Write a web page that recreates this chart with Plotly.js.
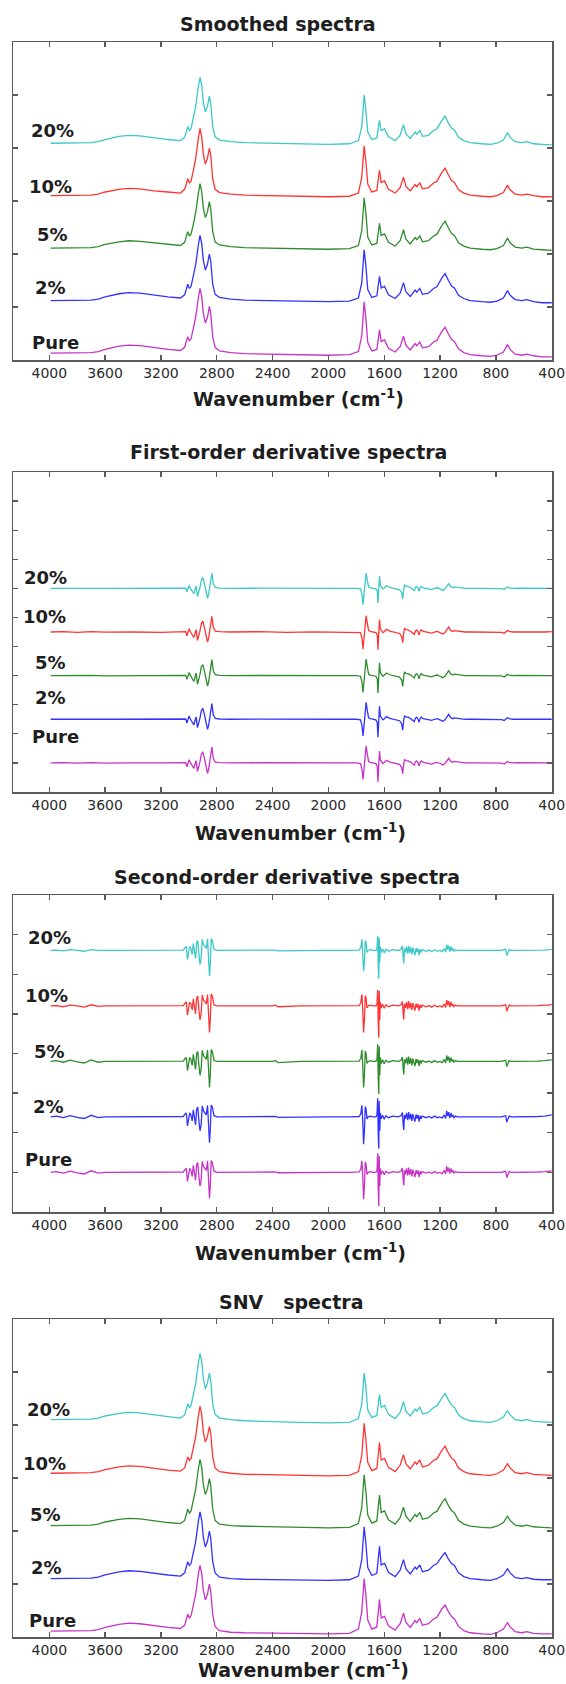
<!DOCTYPE html>
<html><head><meta charset="utf-8">
<script src="https://cdn.plot.ly/plotly-3.0.1.min.js"></script>
<style>html,body{margin:0;padding:0;background:#fff}#chart{width:566px;height:1684px}</style>
</head><body><div id="chart"></div>
<script>
// ---------- labels ----------
const SERIES = ['Pure', '2%', '5%', '10%', '20%'];
const PANEL_TITLES = ['Smoothed spectra', 'First-order derivative spectra', 'Second-order derivative spectra', 'SNV\u00a0\u00a0\u00a0spectra'];
const X_TITLE = 'Wavenumber (cm<sup>-1</sup>)';
const X_TICKS = [4000, 3600, 3200, 2800, 2400, 2000, 1600, 1200, 800, 400];
const X_TICK_LABELS = ['4000', '3600', '3200', '2800', '2400', '2000', '1600', '1200', '800', '400'];

// ---------- smoothed / SNV spectra (wavenumber grid) ----------
const SM_W = [3990,3900,3800,3700,3650,3600,3500,3430,3350,3250,3150,3060,3030,3008,2996,2984,2968,2951,2932,2920,2908,2896,2882,2867,2853,2843,2829,2812,2780,2700,2600,2400,2200,2000,1850,1785,1761,1744,1732,1718,1689,1653,1634,1622,1598,1570,1522,1486,1462,1445,1414,1379,1367,1345,1326,1283,1247,1223,1187,1164,1140,1116,1097,1068,1030,985,900,840,793,746,717,698,662,614,578,530,470,400];

const SM_20 = [4.09,4.09,4.09,4.10,4.12,4.16,4.22,4.24,4.23,4.19,
4.16,4.14,4.20,4.40,4.33,4.37,4.56,4.78,5.16,5.33,
5.19,4.86,4.68,4.78,4.98,4.84,4.40,4.21,4.15,4.12,
4.10,4.09,4.08,4.07,4.08,4.14,4.40,5.00,4.72,4.30,
4.16,4.19,4.52,4.33,4.36,4.21,4.14,4.24,4.44,4.27,
4.18,4.30,4.26,4.33,4.22,4.24,4.33,4.36,4.52,4.60,
4.47,4.37,4.34,4.20,4.14,4.10,4.08,4.07,4.09,4.15,
4.29,4.20,4.12,4.10,4.12,4.08,4.07,4.06];
const SM_10 = [3.10,3.10,3.10,3.11,3.13,3.17,3.22,3.24,3.23,3.19,
3.17,3.15,3.22,3.42,3.34,3.38,3.57,3.80,4.18,4.37,
4.21,3.88,3.70,3.80,4.00,3.86,3.42,3.22,3.16,3.13,
3.11,3.10,3.09,3.08,3.09,3.15,3.45,4.04,3.76,3.32,
3.17,3.20,3.58,3.35,3.38,3.22,3.15,3.25,3.45,3.28,
3.19,3.31,3.27,3.34,3.23,3.25,3.34,3.37,3.54,3.62,
3.49,3.38,3.35,3.21,3.15,3.11,3.09,3.08,3.10,3.16,
3.30,3.21,3.13,3.11,3.13,3.10,3.08,3.08];
const SM_5 = [2.11,2.11,2.11,2.12,2.14,2.18,2.23,2.25,2.24,2.21,
2.18,2.16,2.22,2.42,2.34,2.38,2.56,2.78,3.14,3.33,
3.18,2.86,2.69,2.79,2.99,2.85,2.42,2.23,2.17,2.14,
2.12,2.11,2.10,2.09,2.10,2.16,2.44,3.06,2.78,2.32,
2.17,2.20,2.58,2.35,2.38,2.22,2.15,2.25,2.46,2.28,
2.19,2.31,2.27,2.34,2.23,2.25,2.34,2.37,2.54,2.62,
2.49,2.38,2.35,2.21,2.15,2.11,2.09,2.08,2.10,2.16,
2.30,2.21,2.13,2.11,2.13,2.09,2.08,2.07];
const SM_2 = [1.12,1.12,1.12,1.13,1.15,1.19,1.25,1.27,1.26,1.22,
1.19,1.17,1.23,1.43,1.35,1.39,1.58,1.80,2.17,2.35,
2.20,1.88,1.70,1.80,2.00,1.86,1.43,1.24,1.18,1.15,
1.13,1.12,1.11,1.10,1.11,1.17,1.46,2.08,1.79,1.33,
1.18,1.21,1.58,1.36,1.39,1.23,1.16,1.26,1.46,1.29,
1.20,1.32,1.28,1.35,1.24,1.26,1.35,1.38,1.55,1.63,
1.50,1.39,1.36,1.22,1.16,1.12,1.10,1.09,1.11,1.17,
1.31,1.22,1.14,1.12,1.14,1.10,1.08,1.08];
const SM_PURE = [0.13,0.13,0.13,0.14,0.16,0.20,0.26,0.28,0.27,0.23,
0.20,0.18,0.24,0.44,0.36,0.40,0.59,0.81,1.17,1.35,
1.20,0.88,0.70,0.80,1.01,0.87,0.44,0.24,0.17,0.14,
0.12,0.11,0.10,0.09,0.10,0.16,0.46,1.10,0.80,0.33,
0.17,0.20,0.57,0.35,0.38,0.22,0.15,0.25,0.45,0.28,
0.19,0.31,0.27,0.34,0.23,0.25,0.34,0.37,0.54,0.62,
0.49,0.38,0.35,0.21,0.14,0.10,0.08,0.07,0.09,0.15,
0.29,0.20,0.11,0.09,0.11,0.08,0.06,0.06];

const SNV_20 = [4.10,4.10,4.10,4.11,4.13,4.17,4.22,4.24,4.23,4.19,
4.16,4.13,4.19,4.40,4.33,4.37,4.56,4.78,5.17,5.35,
5.20,4.87,4.68,4.78,4.98,4.84,4.40,4.20,4.13,4.10,
4.08,4.06,4.05,4.04,4.05,4.12,4.40,4.98,4.72,4.28,
4.14,4.18,4.58,4.33,4.37,4.20,4.12,4.24,4.44,4.26,
4.17,4.30,4.26,4.34,4.21,4.24,4.33,4.36,4.52,4.60,
4.47,4.37,4.33,4.19,4.12,4.08,4.06,4.05,4.08,4.15,
4.27,4.19,4.10,4.08,4.10,4.07,4.06,4.05];
const SNV_10 = [3.09,3.09,3.09,3.10,3.12,3.16,3.21,3.23,3.22,3.18,
3.15,3.13,3.19,3.40,3.33,3.37,3.55,3.78,4.16,4.35,
4.20,3.86,3.68,3.78,3.97,3.84,3.40,3.19,3.12,3.09,
3.07,3.06,3.05,3.04,3.05,3.12,3.42,4.03,3.74,3.29,
3.14,3.18,3.67,3.34,3.37,3.20,3.12,3.24,3.44,3.27,
3.17,3.30,3.26,3.34,3.21,3.24,3.33,3.36,3.52,3.60,
3.47,3.37,3.33,3.19,3.12,3.08,3.06,3.05,3.08,3.15,
3.27,3.19,3.10,3.08,3.10,3.07,3.06,3.05];
const SNV_5 = [2.10,2.10,2.10,2.11,2.13,2.17,2.22,2.24,2.23,2.19,
2.16,2.14,2.20,2.41,2.34,2.38,2.56,2.79,3.17,3.35,
3.20,2.87,2.69,2.79,2.99,2.85,2.41,2.20,2.13,2.10,
2.09,2.08,2.07,2.06,2.07,2.14,2.44,3.06,2.76,2.30,
2.15,2.19,2.68,2.35,2.38,2.21,2.13,2.25,2.45,2.28,
2.18,2.31,2.27,2.35,2.22,2.25,2.34,2.37,2.53,2.61,
2.48,2.38,2.34,2.20,2.13,2.09,2.07,2.06,2.09,2.16,
2.28,2.20,2.11,2.09,2.11,2.08,2.07,2.06];
const SNV_2 = [1.10,1.10,1.10,1.11,1.13,1.17,1.23,1.25,1.24,1.20,
1.17,1.15,1.21,1.42,1.35,1.39,1.57,1.80,2.18,2.36,
2.21,1.88,1.70,1.80,2.00,1.86,1.42,1.21,1.13,1.10,
1.09,1.08,1.07,1.07,1.08,1.15,1.46,2.08,1.78,1.31,
1.16,1.20,1.71,1.36,1.39,1.22,1.14,1.26,1.46,1.29,
1.19,1.32,1.28,1.36,1.23,1.26,1.35,1.38,1.52,1.59,
1.47,1.38,1.35,1.21,1.14,1.10,1.08,1.07,1.10,1.17,
1.29,1.21,1.12,1.10,1.12,1.09,1.08,1.08];
const SNV_PURE = [0.11,0.11,0.11,0.12,0.14,0.18,0.24,0.26,0.25,0.21,
0.18,0.16,0.22,0.43,0.36,0.40,0.58,0.81,1.18,1.35,
1.20,0.88,0.70,0.80,1.00,0.86,0.42,0.20,0.12,0.09,
0.08,0.07,0.06,0.06,0.07,0.15,0.47,1.10,0.80,0.32,
0.15,0.19,0.71,0.36,0.39,0.21,0.13,0.25,0.45,0.28,
0.18,0.31,0.27,0.35,0.22,0.25,0.34,0.37,0.53,0.60,
0.48,0.38,0.34,0.20,0.12,0.08,0.06,0.05,0.08,0.15,
0.27,0.19,0.10,0.08,0.10,0.07,0.06,0.06];

// ---------- first-order derivative spectra ----------
const D1_W = [3990,3900,3800,3700,3600,3500,3400,3200,3060,3022,
3014,3006,2998,2988,2975,2964,2956,2948,2938,2930,
2920,2910,2900,2888,2876,2866,2858,2850,2842,2835,
2825,2810,2780,2700,2500,2300,2100,1900,1800,1770,
1760,1752,1745,1738,1730,1722,1712,1700,1680,1660,
1650,1645,1640,1634,1628,1620,1610,1598,1585,1560,
1520,1490,1475,1468,1462,1455,1445,1430,1410,1395,
1385,1378,1370,1360,1350,1342,1335,1320,1290,1260,
1240,1220,1200,1180,1165,1150,1138,1125,1110,1098,
1085,1060,1020,960,900,820,760,740,728,718,
705,680,640,600,560,500,450,400];
const D1_20 = [7,7.005,7,7.005,7,7,7,7,7,7.01,
6.88,7.02,7.10,7,6.90,6.82,6.95,7.08,6.72,6.85,
7.05,7.30,7.37,7.15,6.90,6.66,6.80,7.05,7.40,7.52,
7.15,7.03,7.01,7,7.005,6.995,7,7,7,6.98,
6.80,6.44,6.80,7.25,7.52,7.30,7.05,7.02,7,6.98,
6.90,6.50,6.90,7.42,7.10,7.03,6.98,7.02,7.09,7.03,
6.98,6.95,6.85,6.64,6.90,7.12,7.08,7.07,7.02,6.97,
6.92,7.02,7.07,7.03,6.90,7.03,7.07,7.02,6.98,6.96,
7,7.02,6.98,6.93,6.98,7.10,7.16,7.06,7.02,7.05,
7.04,7.01,7,7,7,7,6.99,6.96,7,7.05,
7.02,7,7.005,7,7.005,7,7,7];
const D1_10 = [5.5,5.51,5.49,5.51,5.495,5.505,5.5,5.49,5.5,5.51,
5.37,5.52,5.61,5.50,5.39,5.31,5.45,5.58,5.21,5.34,
5.55,5.80,5.87,5.64,5.40,5.15,5.30,5.55,5.92,6.04,
5.66,5.53,5.51,5.50,5.51,5.49,5.505,5.49,5.50,5.48,
5.29,4.92,5.29,5.76,6.06,5.82,5.55,5.52,5.50,5.48,
5.39,4.89,5.38,5.93,5.61,5.53,5.48,5.52,5.59,5.53,
5.48,5.45,5.34,5.13,5.40,5.63,5.58,5.57,5.52,5.47,
5.42,5.52,5.57,5.53,5.40,5.53,5.57,5.52,5.48,5.46,
5.50,5.52,5.48,5.43,5.48,5.60,5.67,5.56,5.52,5.55,
5.54,5.51,5.50,5.50,5.50,5.50,5.49,5.46,5.50,5.55,
5.52,5.50,5.505,5.50,5.505,5.50,5.50,5.51];
const D1_5 = [4,4.005,3.99,4.01,3.995,4,4,4,4,4.01,
3.87,4.02,4.11,4.00,3.89,3.80,3.95,4.09,3.70,3.84,
4.05,4.31,4.38,4.15,3.90,3.64,3.79,4.05,4.41,4.55,
4.16,4.03,4.01,4.00,4.005,3.995,4.00,4.00,4.00,3.98,
3.79,3.42,3.79,4.27,4.57,4.32,4.05,4.02,4.00,3.98,
3.89,3.40,3.89,4.44,4.11,4.03,3.98,4.02,4.09,4.03,
3.98,3.95,3.85,3.63,3.90,4.13,4.08,4.07,4.02,3.97,
3.92,4.02,4.07,4.03,3.89,4.03,4.07,4.02,3.98,3.96,
4.00,4.02,3.98,3.93,3.98,4.10,4.17,4.06,4.02,4.05,
4.04,4.01,4.00,4.00,4.00,4.00,3.99,3.95,4.00,4.05,
4.02,4.00,4.005,4.00,4.005,4.00,4.00,4.00];
const D1_2 = [2.5,2.505,2.5,2.505,2.5,2.5,2.5,2.5,2.5,2.51,
2.37,2.52,2.61,2.50,2.39,2.31,2.45,2.58,2.21,2.34,
2.55,2.80,2.88,2.65,2.40,2.15,2.30,2.55,2.92,3.04,
2.65,2.53,2.51,2.50,2.505,2.495,2.50,2.50,2.50,2.48,
2.29,1.93,2.29,2.78,3.08,2.82,2.55,2.52,2.50,2.48,
2.39,1.88,2.38,2.95,2.61,2.53,2.48,2.52,2.59,2.53,
2.48,2.45,2.34,2.13,2.40,2.62,2.58,2.57,2.52,2.47,
2.42,2.52,2.57,2.53,2.40,2.53,2.57,2.52,2.48,2.46,
2.50,2.52,2.48,2.43,2.48,2.60,2.67,2.56,2.52,2.55,
2.54,2.51,2.50,2.50,2.50,2.50,2.49,2.46,2.50,2.55,
2.52,2.50,2.505,2.50,2.505,2.50,2.50,2.50];
const D1_PURE = [1,1.01,0.99,1.01,0.995,1.005,1,1,1,1.01,
0.87,1.02,1.11,1.00,0.89,0.81,0.95,1.08,0.71,0.84,
1.05,1.31,1.38,1.15,0.90,0.64,0.79,1.05,1.42,1.54,
1.15,1.03,1.01,1.00,1.005,0.995,1.00,1.00,1.00,0.98,
0.79,0.43,0.79,1.28,1.59,1.32,1.05,1.02,1.00,0.98,
0.88,0.35,0.88,1.41,1.10,1.03,0.98,1.02,1.09,1.03,
0.98,0.95,0.84,0.63,0.90,1.12,1.08,1.07,1.02,0.97,
0.92,1.02,1.07,1.03,0.89,1.03,1.07,1.02,0.98,0.96,
1.00,1.02,0.98,0.93,0.98,1.10,1.16,1.06,1.02,1.05,
1.04,1.01,1.00,1.00,1.00,1.00,0.99,0.96,1.00,1.05,
1.02,1.00,1.005,1.00,1.005,1.00,1.00,1.00];

// ---------- second-order derivative spectra ----------
const D2_W = [3990,3950,3900,3850,3800,3750,3700,3650,3600,3500,
3300,3100,3040,3025,3018,3010,3002,2994,2985,2976,
2968,2960,2952,2944,2936,2928,2920,2912,2904,2895,
2885,2875,2866,2858,2852,2846,2840,2832,2820,2800,
2700,2600,2400,2380,2360,2200,2000,1850,1780,1768,
1760,1754,1748,1742,1736,1730,1724,1715,1700,1680,
1660,1652,1647,1643,1639,1636,1632,1628,1622,1612,
1600,1588,1570,1540,1500,1480,1470,1464,1460,1455,
1448,1440,1432,1425,1418,1410,1402,1395,1388,1380,
1372,1365,1358,1350,1343,1336,1328,1315,1300,1280,
1260,1240,1220,1200,1185,1170,1160,1152,1145,1138,
1130,1122,1115,1108,1100,1090,1075,1050,1000,950,
900,850,800,760,740,730,722,715,705,690,
650,600,550,500,450,420,400];
const D2_20 = [6.6,6.61,6.59,6.62,6.6,6.58,6.62,6.6,6.6,6.6,
6.6,6.6,6.61,6.68,6.70,6.37,6.55,6.70,6.65,6.50,
6.78,6.50,6.40,6.80,6.85,6.50,6.25,6.40,6.88,6.75,
6.70,6.65,6.89,6.40,5.95,6.30,6.90,6.85,6.63,6.60,
6.60,6.60,6.60,6.61,6.59,6.60,6.60,6.60,6.61,6.68,
6.88,6.50,6.08,6.30,6.85,6.80,6.55,6.60,6.62,6.60,
6.60,6.65,6.96,6.20,5.89,6.93,6.30,6.70,6.55,6.64,
6.54,6.63,6.58,6.62,6.60,6.63,6.71,6.40,6.27,6.65,
6.55,6.70,6.52,6.72,6.54,6.68,6.50,6.67,6.55,6.48,
6.66,6.56,6.65,6.48,6.63,6.55,6.62,6.60,6.58,6.61,
6.57,6.62,6.58,6.60,6.57,6.65,6.56,6.75,6.62,6.72,
6.57,6.70,6.60,6.65,6.58,6.62,6.60,6.60,6.60,6.60,
6.60,6.60,6.60,6.60,6.62,6.63,6.47,6.55,6.62,6.60,
6.60,6.60,6.60,6.60,6.61,6.62,6.63];
const D2_10 = [5.2,5.21,5.18,5.22,5.2,5.17,5.23,5.19,5.2,5.2,
5.2,5.2,5.21,5.28,5.30,4.97,5.15,5.30,5.25,5.10,
5.38,5.10,5.00,5.40,5.45,5.10,4.85,5.00,5.48,5.35,
5.30,5.25,5.49,5.00,4.53,4.90,5.50,5.45,5.23,5.20,
5.20,5.20,5.20,5.22,5.18,5.20,5.20,5.20,5.21,5.28,
5.49,5.10,4.53,4.85,5.46,5.40,5.15,5.20,5.22,5.20,
5.20,5.25,5.60,4.75,4.40,5.58,4.85,5.30,5.15,5.24,
5.14,5.23,5.18,5.22,5.20,5.23,5.31,5.00,4.86,5.25,
5.15,5.30,5.12,5.32,5.14,5.28,5.10,5.27,5.15,5.08,
5.26,5.16,5.25,5.08,5.23,5.15,5.22,5.20,5.18,5.21,
5.17,5.22,5.18,5.20,5.17,5.25,5.16,5.35,5.22,5.32,
5.17,5.30,5.20,5.25,5.18,5.22,5.20,5.20,5.20,5.20,
5.20,5.20,5.20,5.20,5.22,5.23,5.07,5.15,5.22,5.20,
5.20,5.20,5.20,5.21,5.22,5.22,5.24];
const D2_5 = [3.8,3.82,3.78,3.83,3.79,3.76,3.84,3.78,3.8,3.8,
3.8,3.8,3.81,3.88,3.90,3.57,3.75,3.90,3.85,3.70,
3.98,3.70,3.60,4.00,4.05,3.70,3.45,3.60,4.08,3.95,
3.90,3.85,4.09,3.60,3.14,3.50,4.10,4.05,3.83,3.80,
3.80,3.80,3.80,3.82,3.77,3.80,3.80,3.80,3.81,3.88,
4.09,3.70,3.14,3.45,4.06,4.00,3.75,3.80,3.82,3.80,
3.80,3.85,4.23,3.35,2.98,4.18,3.45,3.90,3.75,3.84,
3.74,3.83,3.78,3.82,3.80,3.83,3.91,3.60,3.47,3.85,
3.75,3.90,3.72,3.92,3.74,3.88,3.70,3.87,3.75,3.68,
3.86,3.76,3.85,3.68,3.83,3.75,3.82,3.80,3.78,3.81,
3.77,3.82,3.78,3.80,3.77,3.85,3.76,3.95,3.82,3.92,
3.77,3.90,3.80,3.85,3.78,3.82,3.80,3.80,3.80,3.80,
3.80,3.80,3.80,3.80,3.82,3.83,3.67,3.75,3.82,3.80,
3.80,3.80,3.80,3.81,3.82,3.83,3.84];
const D2_2 = [2.4,2.42,2.38,2.43,2.39,2.36,2.44,2.38,2.4,2.4,
2.4,2.4,2.41,2.48,2.50,2.17,2.35,2.50,2.45,2.30,
2.58,2.30,2.20,2.60,2.65,2.30,2.05,2.20,2.68,2.55,
2.50,2.45,2.69,2.20,1.75,2.10,2.70,2.65,2.43,2.40,
2.40,2.40,2.40,2.41,2.39,2.40,2.40,2.40,2.41,2.48,
2.69,2.30,1.71,2.05,2.66,2.60,2.35,2.40,2.42,2.40,
2.40,2.45,2.87,1.95,1.60,2.80,2.05,2.50,2.35,2.44,
2.34,2.43,2.38,2.42,2.40,2.43,2.51,2.20,2.07,2.45,
2.35,2.50,2.32,2.52,2.34,2.48,2.30,2.47,2.35,2.28,
2.46,2.36,2.45,2.28,2.43,2.35,2.42,2.40,2.38,2.41,
2.37,2.42,2.38,2.40,2.37,2.45,2.36,2.55,2.42,2.52,
2.37,2.50,2.40,2.45,2.38,2.42,2.40,2.40,2.40,2.40,
2.40,2.40,2.40,2.40,2.42,2.43,2.27,2.35,2.42,2.40,
2.40,2.40,2.40,2.41,2.42,2.44,2.45];
const D2_PURE = [1.0,1.02,0.98,1.03,0.99,0.96,1.04,0.98,1.0,1.0,
1.0,1.0,1.01,1.08,1.10,0.77,0.95,1.10,1.05,0.90,
1.18,0.90,0.80,1.20,1.25,0.90,0.65,0.80,1.28,1.15,
1.10,1.05,1.29,0.80,0.34,0.70,1.30,1.25,1.03,1.00,
1.00,1.00,1.00,1.01,0.99,1.00,1.00,1.00,1.01,1.08,
1.29,0.90,0.32,0.65,1.26,1.20,0.95,1.00,1.02,1.00,
1.00,1.05,1.48,0.55,0.15,1.42,0.65,1.10,0.95,1.04,
0.94,1.03,0.98,1.02,1.00,1.03,1.11,0.80,0.67,1.05,
0.95,1.10,0.92,1.12,0.94,1.08,0.90,1.07,0.95,0.88,
1.06,0.96,1.05,0.88,1.03,0.95,1.02,1.00,0.98,1.01,
0.97,1.02,0.98,1.00,0.97,1.05,0.96,1.15,1.02,1.12,
0.97,1.10,1.00,1.05,0.98,1.02,1.00,1.00,1.00,1.00,
1.00,1.00,1.00,1.00,1.02,1.03,0.87,0.95,1.02,1.00,
1.00,1.00,1.00,1.01,1.02,1.03,1.04];

// ---------- drawing ----------
const COLORS = ['#C832C8', '#3232FF', '#2E8C2E', '#FF3434', '#3CC8C8'];
const PANELS = [
  {x: SM_W, ys: [SM_PURE, SM_2, SM_5, SM_10, SM_20]},
  {x: D1_W, ys: [D1_PURE, D1_2, D1_5, D1_10, D1_20]},
  {x: D2_W, ys: [D2_PURE, D2_2, D2_5, D2_10, D2_20]},
  {x: SM_W, ys: [SNV_PURE, SNV_2, SNV_5, SNV_10, SNV_20]}
];

const W = 566, H = 1684, ML = 13, MR = 14;
const PW = W - ML - MR;
const PX = px => (px - ML) / PW;
const PY = py => 1 - py / H;

// layout geometry (pixels)
const BOX = [[42, 360], [472, 792], [895, 1212], [1319, 1637]];
const YRANGE = [[0, 6], [0, 11], [0, 8], [0, 6]];
const TITLE_POS = [[278, 24], [288, 452], [287, 877], [291, 1302]];
const XTITLE_POS = [[298, 398], [300, 832], [300, 1252], [303, 1669]];
const LABEL_POS = [
  [[30, 342], [33, 287], [35, 234], [27, 186], [29, 130]],
  [[30, 737], [33, 697], [33, 662], [21, 616], [22, 577]],
  [[23, 1159], [31, 1106], [32, 1051], [23, 995], [26, 937]],
  [[27, 1620], [29, 1567], [28, 1514], [21, 1463], [25, 1409]]
];

const traces = [];
const layout = {
  width: W, height: H,
  margin: {l: ML, r: MR, t: 0, b: 0, pad: 0},
  paper_bgcolor: '#fff', plot_bgcolor: '#fff',
  showlegend: false,
  annotations: []
};
const AX = '#5a5a5a';
const txt = '#1e1e1e';

PANELS.forEach((p, i) => {
  const n = i === 0 ? '' : String(i + 1);
  const [top, bot] = BOX[i];
  layout['xaxis' + n] = {
    domain: [0, 1], range: [4260, 398], anchor: 'y' + n,
    tickmode: 'array', tickvals: X_TICKS, ticktext: X_TICK_LABELS,
    ticks: 'inside', ticklen: 5, tickwidth: 1.3, tickcolor: AX,
    showline: true, linecolor: AX, linewidth: 1.5, mirror: 'ticks',
    showgrid: false, zeroline: false,
    tickfont: {family: 'DejaVu Sans', size: 14, color: '#2a2a2a'}
  };
  const yr = YRANGE[i];
  const yt = [];
  for (let k = yr[0] + 1; k < yr[1]; k++) yt.push(k);
  layout['yaxis' + n] = {
    domain: [PY(bot), PY(top)], range: yr, anchor: 'x' + n,
    tickmode: 'array', tickvals: yt, showticklabels: false,
    ticks: 'inside', ticklen: 5, tickwidth: 1.3, tickcolor: AX,
    showline: true, linecolor: AX, linewidth: 1.5, mirror: 'ticks',
    showgrid: false, zeroline: false
  };
  p.ys.forEach((y, s) => {
    traces.push({
      type: 'scatter', mode: 'lines', x: p.x, y: y,
      xaxis: 'x' + n, yaxis: 'y' + n,
      line: {color: COLORS[s], width: 1.3},
      hoverinfo: 'skip', name: SERIES[s]
    });
  });
  layout.annotations.push({
    text: '<b>' + PANEL_TITLES[i] + '</b>', xref: 'paper', yref: 'paper',
    x: PX(TITLE_POS[i][0]), y: PY(TITLE_POS[i][1]), xanchor: 'center', yanchor: 'middle',
    showarrow: false, font: {family: 'DejaVu Sans', size: 19, color: txt}
  });
  layout.annotations.push({
    text: '<b>' + X_TITLE + '</b>', xref: 'paper', yref: 'paper',
    x: PX(XTITLE_POS[i][0]), y: PY(XTITLE_POS[i][1]), xanchor: 'center', yanchor: 'middle',
    showarrow: false, font: {family: 'DejaVu Sans', size: 19, color: txt}
  });
  LABEL_POS[i].forEach((pos, s) => {
    layout.annotations.push({
      text: '<b>' + SERIES[s] + '</b>', xref: 'paper', yref: 'paper',
      x: PX(pos[0]), y: PY(pos[1]), xanchor: 'left', yanchor: 'middle',
      showarrow: false, font: {family: 'DejaVu Sans', size: 18, color: txt}
    });
  });
});

Plotly.newPlot('chart', traces, layout, {staticPlot: true, displayModeBar: false});
</script>
</body></html>
